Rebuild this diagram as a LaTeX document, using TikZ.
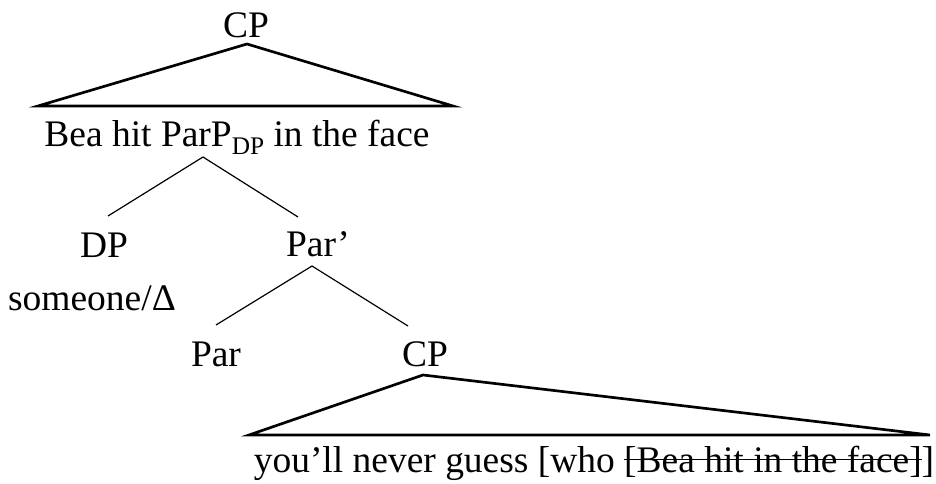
\documentclass[tikz,border=0pt]{standalone}
\usepackage{fontspec}
\setmainfont{Liberation Serif}
\newsavebox{\strkbox}
\newcommand{\strk}[1]{\sbox{\strkbox}{#1}\rlap{\usebox{\strkbox}}\rule[0.74ex]{\wd\strkbox}{1pt}}
\begin{document}
\begin{tikzpicture}[x=0.75pt,y=-0.75pt,
  lbl/.style={anchor=base,inner sep=0pt,font=\fontsize{28.1}{33}\selectfont},
  tri/.style={line width=2pt,line join=miter},
  branch/.style={line width=0.9pt}]
\useasboundingbox (0,0) rectangle (936,484);
% labels
\node[lbl] (cpTop) at (246,38) {CP};
\node[lbl] (sTop) at (237,147) {Bea hit ParP\raisebox{-0.2em}{\fontsize{19}{19}\selectfont DP} in the face};
\node[lbl] (dp) at (104,258) {DP};
\node[lbl] (parbar) at (318,257) {Par’};
\node[lbl] (someone) at (92,311) {someone/Δ};
\node[lbl] (par) at (216,367) {Par};
\node[lbl] (cpLow) at (425,367) {CP};
\node[lbl] (sLow) at (594,473) {you’ll never guess [who \strk{[Bea hit in the face]}]};
% triangle points and branch ends
\coordinate (t1a) at (247,44);
\coordinate (t1l) at (38,106);
\coordinate (t1r) at (453,106);
\coordinate (b1) at (203,157);
\coordinate (dpT) at (108,216);
\coordinate (pbT) at (298,217);
\coordinate (b2) at (312,266);
\coordinate (parT) at (216,325);
\coordinate (cpT) at (408,326);
\coordinate (t2a) at (423,375);
\coordinate (t2l) at (249,435);
\coordinate (t2r) at (930,435);
% connectors
\draw[tri] (t1a) -- (t1l) -- (t1r) -- cycle;
\draw[branch] (dpT) -- (b1) -- (pbT);
\draw[branch] (parT) -- (b2) -- (cpT);
\draw[tri] (t2a) -- (t2l) -- (t2r) -- cycle;
\end{tikzpicture}
\end{document}
